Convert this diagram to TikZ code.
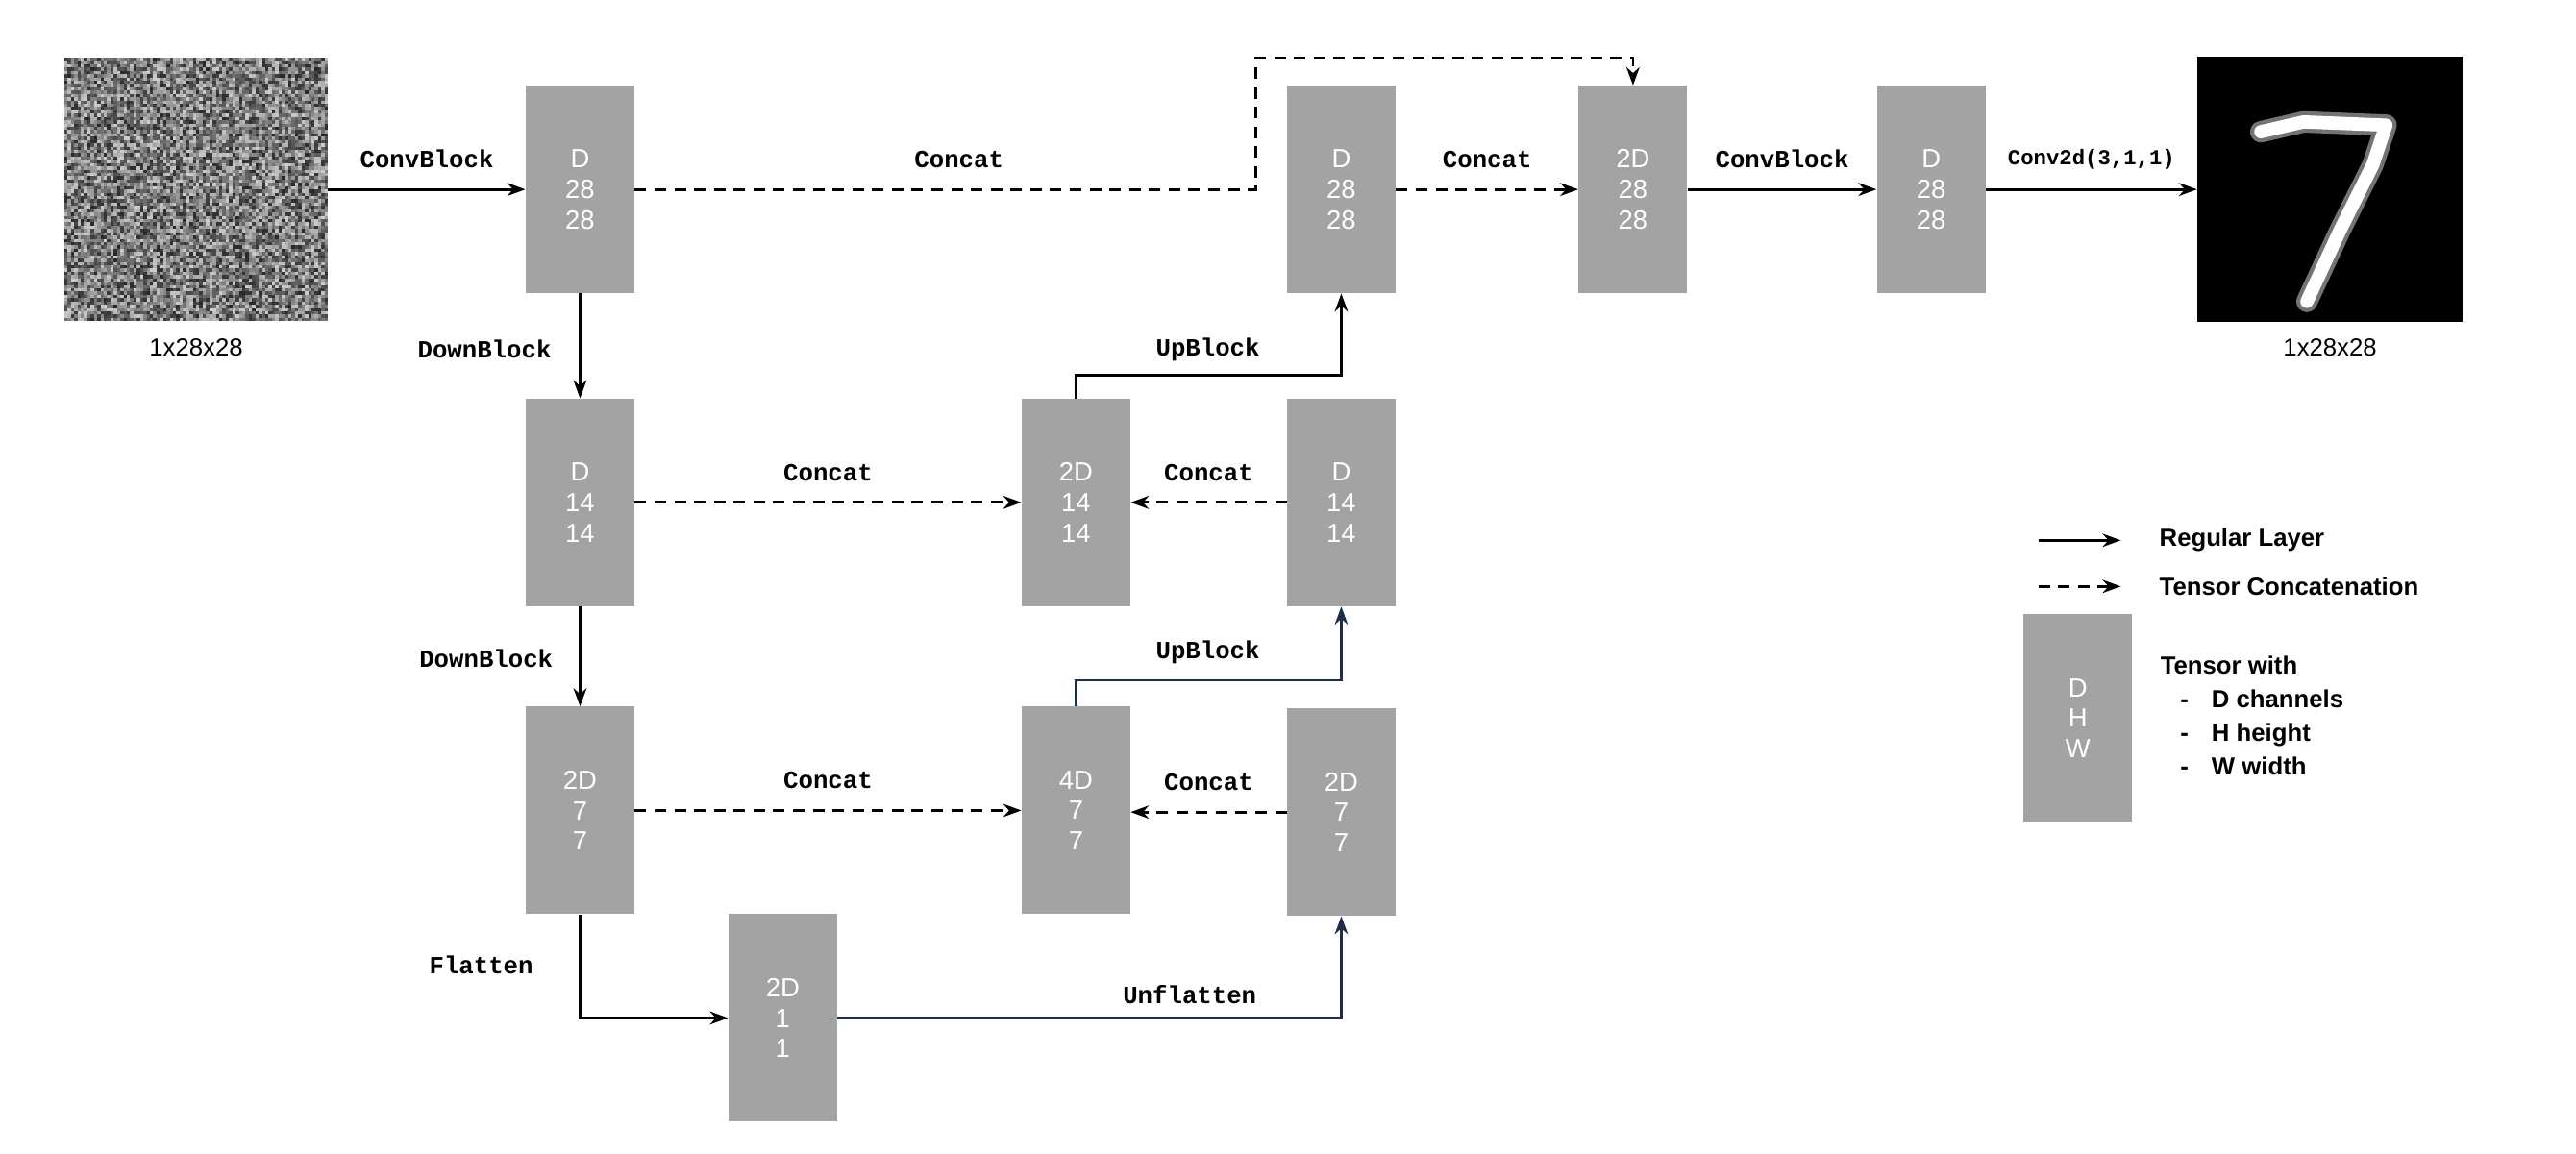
\documentclass[tikz,border=0pt]{standalone}
\usepackage{fontspec}
\setmainfont{Liberation Sans}
\setmonofont{Liberation Mono}
\usetikzlibrary{arrows.meta}
\definecolor{boxg}{HTML}{A3A3A3}
\definecolor{navy}{HTML}{1F2D4A}
\begin{document}
\begin{tikzpicture}[x=1pt,y=-1pt,
  blk/.style={fill=boxg,draw=none,minimum width=66pt,minimum height=126pt,text=white,font=\fontsize{16}{18.5}\selectfont,align=center,inner sep=0pt},
  reg/.style={-{Stealth[length=11pt,width=8pt]},line width=1.6pt},
  cat/.style={reg,dash pattern=on 7pt off 5pt},
  lab/.style={font=\ttfamily\bfseries\fontsize{15}{17}\selectfont},
  imgcap/.style={font=\fontsize{15}{17}\selectfont}]
\useasboundingbox (0,0) rectangle (1563.3,700);
% input noise image
\node[inner sep=0pt,minimum size=160pt,fill=gray] (in) at (119,115) {};
\pgfmathsetseed{7}
\foreach \i in {0,...,79}{\foreach \j in {0,...,79}{
  \pgfmathsetmacro{\g}{int(20+65*rnd)}
  \fill[black!\g!white] (39+2*\i,35+2*\j) rectangle ++(2,2);}}
% output digit
\node[inner sep=0pt,minimum size=161pt,fill=black] (out) at (1414,115) {};
\begin{scope}[line cap=round,line join=round]
\draw[white!45!black,line width=13pt] (1372,80) -- (1398,74) -- (1448,76) -- (1440,100) -- (1420,140) -- (1400,183);
\draw[white,line width=8pt] (1372,80) -- (1398,74) -- (1448,76) -- (1440,100) -- (1420,140) -- (1400,183);
\end{scope}
\node[imgcap] at (119,211) {1x28x28};
\node[imgcap] at (1414,211) {1x28x28};
% blocks
\node[blk] (a1) at (352,115) {D\\28\\28};
\node[blk] (a2) at (352,305) {D\\14\\14};
\node[blk] (a3) at (352,492) {2D\\7\\7};
\node[blk] (b) at (475,618) {2D\\1\\1};
\node[blk] (c3) at (653,492) {4D\\7\\7};
\node[blk] (c2) at (653,305) {2D\\14\\14};
\node[blk] (e3) at (814,493) {2D\\7\\7};
\node[blk] (e2) at (814,305) {D\\14\\14};
\node[blk] (e1) at (814,115) {D\\28\\28};
\node[blk] (f) at (991,115) {2D\\28\\28};
\node[blk] (g) at (1172,115) {D\\28\\28};
\node[blk] (lg) at (1261,436) {D\\H\\W};
% connectors
\draw[reg] (in) -- (a1) node[lab,midway,above=9pt] {ConvBlock};
\coordinate (k1) at (762,115); \coordinate (k2) at (762,35);
\draw[cat] (a1) -- (k1) -- (k2) -| (f.north);
\node[lab] at (582,97) {Concat};
\draw[cat] (e1) -- (f) node[lab,midway,above=9pt] {Concat};
\draw[reg] (f) -- (g) node[lab,midway,above=9pt] {ConvBlock};
\draw[reg] (g) -- (out) node[midway,above=8pt,font=\ttfamily\bfseries\fontsize{13}{15}\selectfont] {Conv2d(3,1,1)};
\draw[reg] (a1) -- (a2);
\node[lab] at (294,212) {DownBlock};
\draw[reg] (a2) -- (a3);
\node[lab] at (295,400) {DownBlock};
\draw[cat] (a2) -- (c2) node[lab,midway,above=9pt] {Concat};
\draw[cat] (e2) -- (c2) node[lab,midway,above=9pt] {Concat};
\draw[cat] (a3) -- (c3) node[lab,midway,above=9pt] {Concat};
\draw[cat] (e3.west) -- (c3.east|-e3.west) node[lab,midway,above=9pt] {Concat};
\coordinate (u1) at (653,228); \coordinate (u2) at (653,413);
\draw[reg] (c2.north) -- (u1) -| (e1.south);
\node[lab] at (733,212) {UpBlock};
\draw[reg,navy] (c3.north) -- (u2) -| (e2.south);
\node[lab] at (733,396) {UpBlock};
\draw[reg] (a3.south) |- (b.west);
\node[lab] at (292,586) {Flatten};
\draw[reg,navy] (b.east) -| (e3.south);
\node[lab] at (722,604) {Unflatten};
% legend
\coordinate (l1) at (1237,328); \coordinate (l2) at (1287,328);
\coordinate (l3) at (1237,356); \coordinate (l4) at (1287,356);
\draw[reg] (l1) -- (l2);
\draw[cat] (l3) -- (l4);
\node[anchor=west,font=\bfseries\fontsize{15}{17}\selectfont] at (1307,328) {Regular Layer};
\node[anchor=west,font=\bfseries\fontsize{15}{17}\selectfont] at (1307,356) {Tensor Concatenation};
\node[anchor=north west,font=\bfseries\fontsize{15}{20.5}\selectfont,align=left,inner sep=0pt] at (1311,398) {Tensor with\\[0pt]\hspace*{12pt}-\hspace*{14pt}D channels\\\hspace*{12pt}-\hspace*{14pt}H height\\\hspace*{12pt}-\hspace*{14pt}W width};
\end{tikzpicture}
\end{document}
